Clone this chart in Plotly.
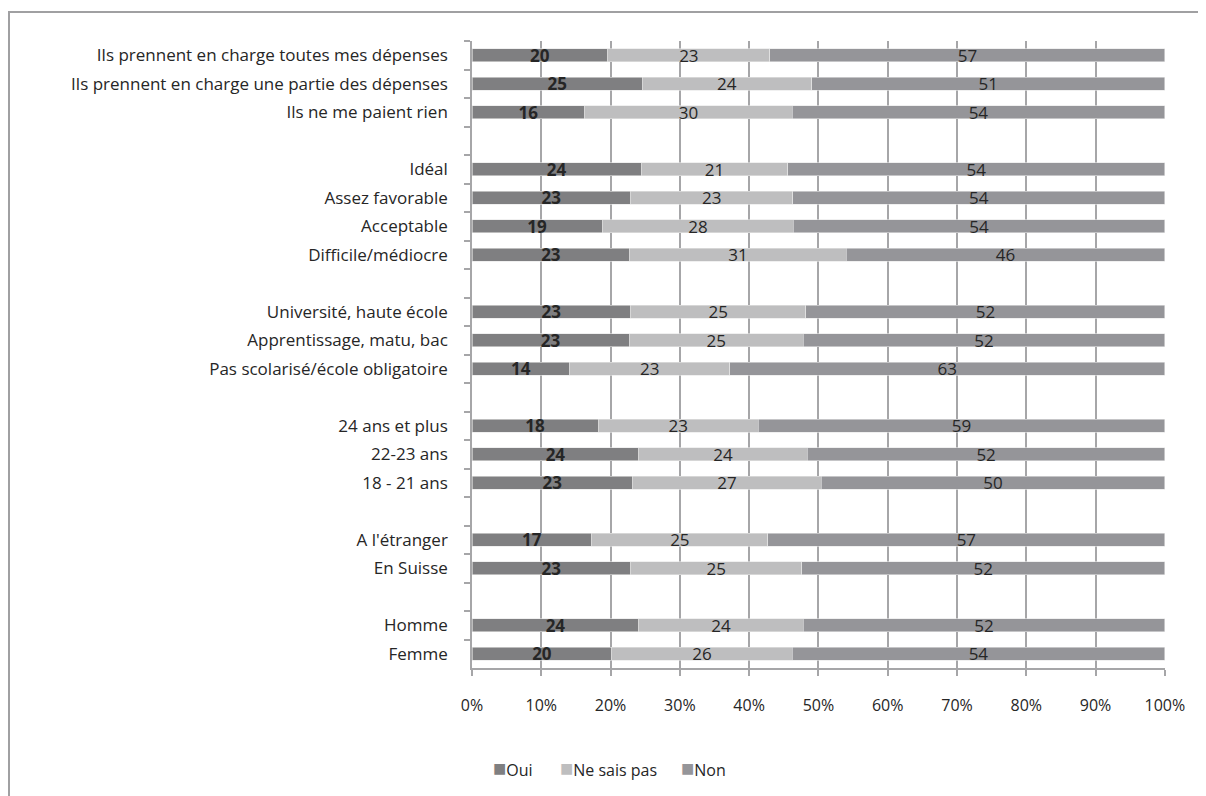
import plotly.graph_objects as go

categories = [
    "Ils prennent en charge toutes mes dépenses",
    "Ils prennent en charge une partie des dépenses",
    "Ils ne me paient rien",
    " ",
    "Idéal",
    "Assez favorable",
    "Acceptable",
    "Difficile/médiocre",
    "  ",
    "Université, haute école",
    "Apprentissage, matu, bac",
    "Pas scolarisé/école obligatoire",
    "   ",
    "24 ans et plus",
    "22-23 ans",
    "18 - 21 ans",
    "    ",
    "A l'étranger",
    "En Suisse",
    "     ",
    "Homme",
    "Femme",
]

oui = [19.6, 24.6, 16.3, None, 24.4, 22.9, 18.8, 22.8, None, 22.9, 22.7, 14.1, None,
       18.2, 24.1, 23.2, None, 17.3, 22.9, None, 24.1, 20.2]
ne_sais_pas = [23.4, 24.4, 29.9, None, 21.2, 23.4, 27.6, 31.2, None, 25.3, 25.1, 23.1, None,
               23.1, 24.3, 27.2, None, 25.4, 24.7, None, 23.7, 26.0]
non = [57.0, 51.0, 53.8, None, 54.4, 53.7, 53.6, 46.0, None, 51.8, 52.2, 62.8, None,
       58.7, 51.6, 49.6, None, 57.3, 52.4, None, 52.2, 53.8]

series_names = ["Oui", "Ne sais pas", "Non"]
series_colors = ["#7f7f81", "#bebebf", "#959599"]

FONT = "Open Sans"
TXT = "#262626"
GRID = "#a6a6a8"

W, H = 1198, 788
L, R, T, B = 464, 41, 33, 128
PW, PH = W - L - R, H - T - B

fig = go.Figure()
for name, vals, color in zip(series_names, [oui, ne_sais_pas, non], series_colors):
    bold = name == "Oui"
    fig.add_trace(go.Bar(
        name=name, y=categories, x=vals, orientation="h",
        marker=dict(color=color, line=dict(color="#e6e6e6", width=0.6)),
        width=0.45,
        texttemplate="<b>%{x:.0f}</b>" if bold else "%{x:.0f}",
        textposition="inside", insidetextanchor="middle", textangle=0,
        textfont=dict(family=FONT, size=17, color=TXT),
        constraintext="none",
        cliponaxis=False,
        hoverinfo="skip",
        showlegend=False,
    ))

# legend drawn as annotations (compact marker-to-text spacing as in the reference)
legend_x = [(491 - 8 - L) / PW, (558 - 8 - L) / PW, (679 - 8 - L) / PW]
legend_y = (T + PH - (767 - 8)) / PH
annotations = []
for name, color, lx in zip(series_names, series_colors, legend_x):
    annotations.append(dict(
        xref="paper", yref="paper", x=lx, y=legend_y, xanchor="left",
        yanchor="middle", showarrow=False,
        text=f"<span style='color:{color};font-size:22px'>■</span>{name}",
        font=dict(family=FONT, size=16, color=TXT),
    ))

fig.update_layout(
    barmode="stack",
    width=W, height=H,
    margin=dict(l=L, r=R, t=T, b=B),
    paper_bgcolor="white", plot_bgcolor="white",
    font=dict(family=FONT, size=16, color=TXT),
    showlegend=False,
    annotations=annotations,
    xaxis=dict(range=[0, 100.02], tickvals=list(range(0, 101, 10)),
               ticktext=[f"{v}%" for v in range(0, 101, 10)],
               showgrid=True, gridcolor=GRID, gridwidth=1.5,
               showline=True, linecolor=GRID, linewidth=1.5,
               ticks="outside", ticklen=6, tickcolor=GRID, tickwidth=1.5,
               tickfont=dict(family=FONT, size=16, color=TXT), zeroline=False,
               ticklabelstandoff=16, fixedrange=True),
    yaxis=dict(categoryorder="array", categoryarray=categories, autorange="reversed",
               type="category",
               showline=True, linecolor=GRID, linewidth=1.5,
               ticks="outside", tickson="boundaries", ticklen=6, tickcolor=GRID,
               tickwidth=1.5, showgrid=False,
               tickfont=dict(family=FONT, size=17, color=TXT), ticklabelstandoff=19),
    shapes=[dict(type="rect", xref="paper", yref="paper",
                 x0=(1 - L) / PW, x1=(W + 10 - L) / PW,
                 y0=(T + PH - (H + 10)) / PH, y1=(T + PH - 4) / PH,
                 line=dict(color="#a0a0a2", width=2), fillcolor="rgba(0,0,0,0)",
                 layer="below")],
)

fig.write_html("out.html")
